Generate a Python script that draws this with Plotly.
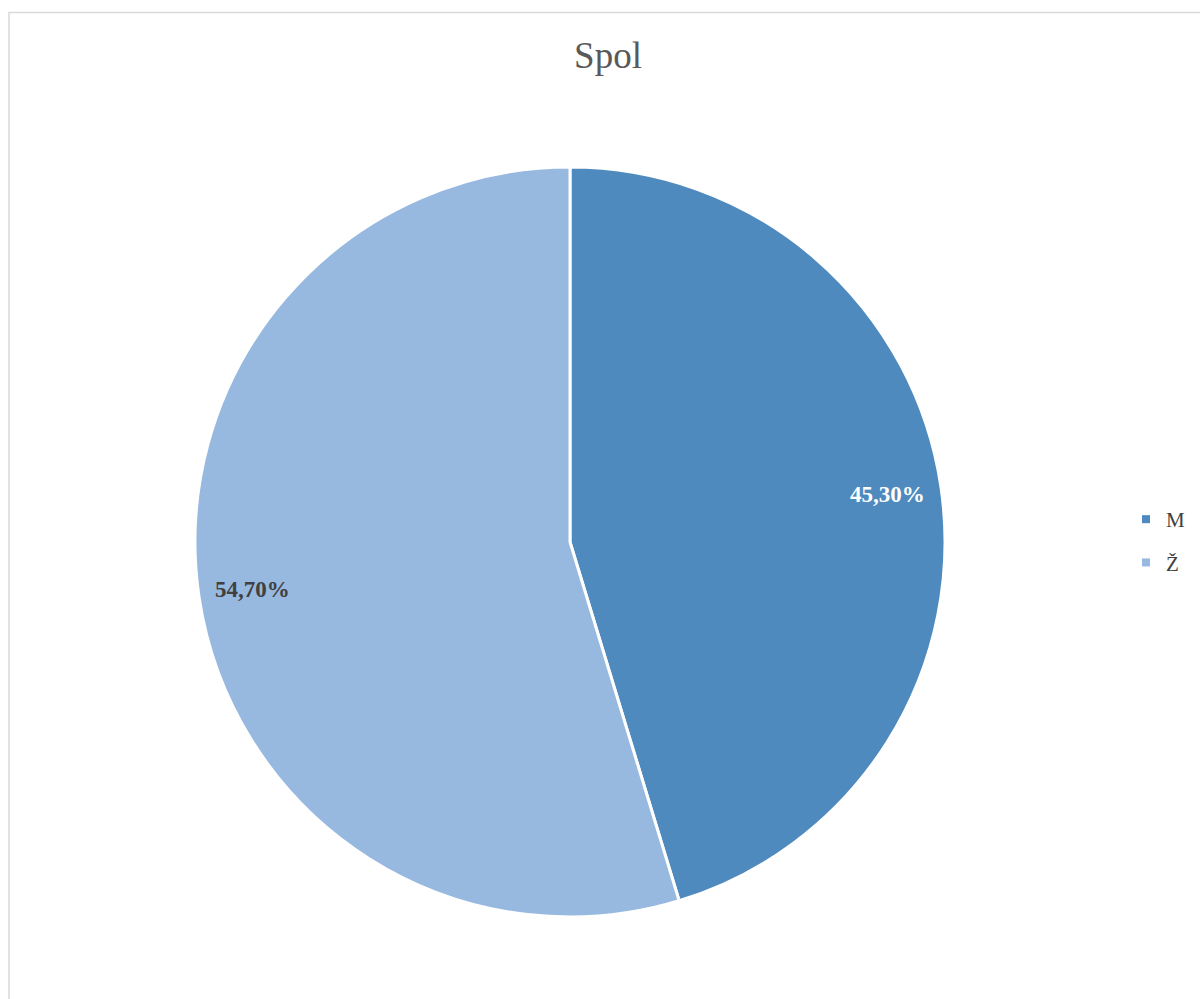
import math
import plotly.graph_objects as go

# Gender split
categories = ["M", "Ž"]
shares = [45.3, 54.7]
colors = ["#4F8ABE", "#97B8DF"]
label_colors = ["#FFFFFF", "#404040"]

W, H = 1200, 999
cx, cy, R = 570, 542, 375  # pie centre and radius in pixels

fig = go.Figure(
    go.Pie(
        labels=categories,
        values=shares,
        sort=False,
        direction="clockwise",
        rotation=0,
        textinfo="none",
        hoverinfo="label+percent",
        showlegend=False,
        marker=dict(colors=colors, line=dict(color="#FFFFFF", width=3)),
        domain=dict(x=[(cx - R) / W, (cx + R) / W],
                    y=[(H - cy - R) / H, (H - cy + R) / H]),
    )
)

# Legend entries (square swatches), one group per category for spacing
for name, col in zip(categories, colors):
    fig.add_trace(go.Scatter(
        x=[None], y=[None], mode="markers", name=name, legendgroup=name,
        marker=dict(symbol="square", size=8, color=col),
        hoverinfo="skip",
    ))

# Percentage labels placed at each slice's mid-angle, near the outer edge
total = sum(shares)
start = 0.0
for name, v, col in zip(categories, shares, label_colors):
    mid = (start + v / 2) / total * 2 * math.pi
    start += v
    r = 0.855 * R
    px = cx + r * math.sin(mid)
    py = cy - r * math.cos(mid)
    fig.add_annotation(
        x=px / W, y=1 - py / H, xref="paper", yref="paper",
        text="<b>" + f"{v:.2f}".replace(".", ",") + "%</b>",
        showarrow=False,
        font=dict(family="Liberation Serif", size=23, color=col),
        xanchor="center", yanchor="middle",
    )

# Chart area frame
fig.add_shape(type="rect", xref="paper", yref="paper",
              x0=9 / W, x1=1.02, y0=-0.02, y1=1 - 12.5 / H,
              line=dict(color="#D9D9D9", width=1.5), fillcolor="rgba(0,0,0,0)")

fig.update_layout(
    width=W, height=H,
    margin=dict(l=0, r=0, t=0, b=0),
    paper_bgcolor="#FFFFFF",
    plot_bgcolor="#FFFFFF",
    xaxis=dict(visible=False),
    yaxis=dict(visible=False),
    title=dict(text="Spol", x=608 / W, y=1 - 55 / H, xanchor="center", yanchor="middle",
               font=dict(family="Liberation Serif", size=37, color="#595959")),
    legend=dict(x=1126 / W, y=1 - 499 / H, xanchor="left", yanchor="top",
                font=dict(family="Liberation Serif", size=21, color="#404040"),
                bgcolor="rgba(0,0,0,0)", itemwidth=30, tracegroupgap=13),
    font=dict(family="Liberation Serif"),
)

fig.write_html("out.html")
